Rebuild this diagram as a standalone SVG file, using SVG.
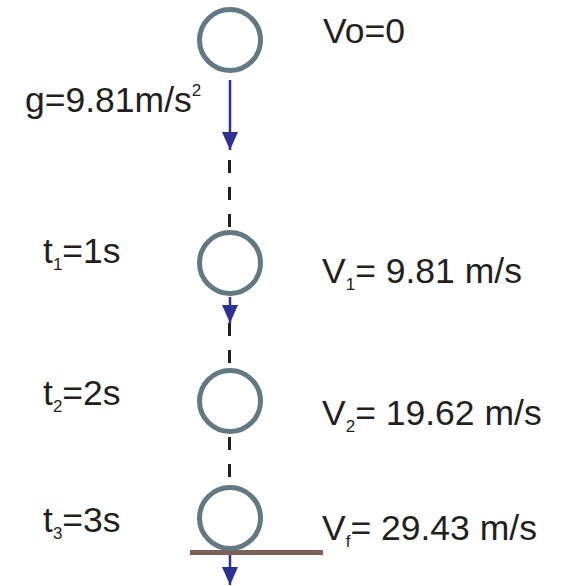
<svg xmlns="http://www.w3.org/2000/svg" width="563" height="586" viewBox="0 0 563 586">
<style>
.ball{fill:none;stroke:#627883;stroke-width:5}
.lbl{font-family:"Liberation Sans",Arial,sans-serif;font-size:35.5px;fill:#231f20}
.sub{font-size:17px}
.dash{stroke:#231f20;stroke-width:3;stroke-dasharray:13 14}
.vel{stroke:#2e3192;stroke-width:2.5;fill:none}
</style>
<defs>
<marker id="ah" markerWidth="18" markerHeight="16" refX="18" refY="8" orient="auto" markerUnits="userSpaceOnUse" viewBox="0 0 18 16">
<path d="M0,0 L18,8 L0,16 Z" fill="#2e3192"/>
</marker>
</defs>
<rect width="563" height="586" fill="#fff"/>
<g id="connectors">
<line class="dash" x1="229.5" y1="160" x2="229.5" y2="228"/>
<line class="dash" x1="229.5" y1="323" x2="229.5" y2="368"/>
<line class="dash" x1="229.5" y1="437" x2="229.5" y2="484"/>
<line class="vel" x1="230" y1="80" x2="230" y2="150" marker-end="url(#ah)"/>
<line class="vel" x1="230" y1="297" x2="230" y2="323" marker-end="url(#ah)"/>
<line class="vel" x1="230" y1="555" x2="230" y2="585" marker-end="url(#ah)"/>
</g>
<g id="ground"><line x1="190" y1="552.5" x2="323" y2="552.5" stroke="#7b6158" stroke-width="5"/></g>
<g id="ball0"><circle class="ball" cx="230" cy="40" r="30.5"/></g>
<g id="ball1"><circle class="ball" cx="230" cy="263" r="30.5"/></g>
<g id="ball2"><circle class="ball" cx="230" cy="401" r="30.5"/></g>
<g id="ball3"><circle class="ball" cx="230" cy="518" r="30.5"/></g>
<g id="labels">
<text class="lbl" x="323" y="43">Vo=0</text>
<text class="lbl" x="25" y="112">g=9.81m/s<tspan class="sub" dy="-16">2</tspan></text>
<text class="lbl" x="43" y="263">t<tspan class="sub" dy="7">1</tspan><tspan dy="-7">=1s</tspan></text>
<text class="lbl" x="43" y="405">t<tspan class="sub" dy="7">2</tspan><tspan dy="-7">=2s</tspan></text>
<text class="lbl" x="43" y="532">t<tspan class="sub" dy="7">3</tspan><tspan dy="-7">=3s</tspan></text>
<text class="lbl" x="322" y="283">V<tspan class="sub" dy="7">1</tspan><tspan dy="-7">= 9.81 m/s</tspan></text>
<text class="lbl" x="322" y="425">V<tspan class="sub" dy="7">2</tspan><tspan dy="-7">= 19.62 m/s</tspan></text>
<text class="lbl" x="322" y="540">V<tspan class="sub" dy="7">f</tspan><tspan dy="-7">= 29.43 m/s</tspan></text>
</g>
</svg>
